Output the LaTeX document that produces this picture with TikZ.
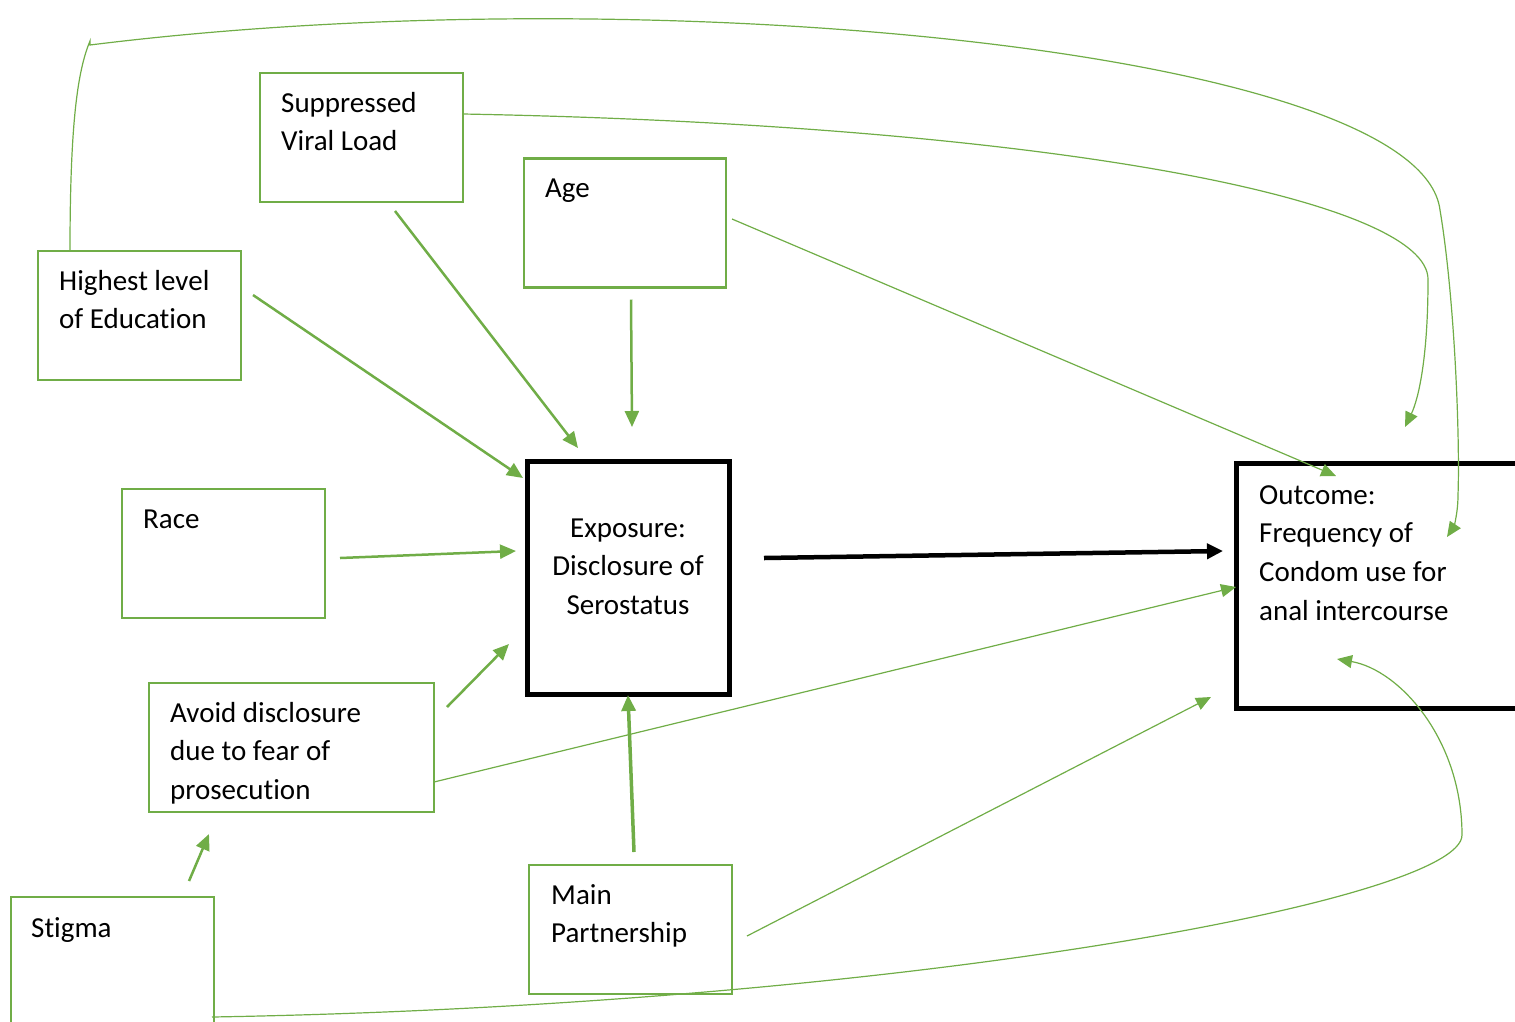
\documentclass[tikz,border=0pt]{standalone}
\usepackage{fontspec}
\setmainfont{Carlito}[Ligatures=NoCommon]
\usetikzlibrary{arrows.meta}
\definecolor{ogreen}{RGB}{112,173,71}
\begin{document}
\begin{tikzpicture}[x=1pt,y=-1pt,
  gbox/.style={draw=ogreen, line width=2.5pt, inner sep=0pt, outer sep=0pt, minimum width=#1, minimum height=129pt},
  gbox/.default=203pt,
  kbox/.style={draw=black, line width=5pt, inner sep=0pt, outer sep=0pt},
  lbl/.style={anchor=north west, inner sep=0pt, align=left, font=\fontsize{29}{38.6}\selectfont},
  clbl/.style={anchor=north, inner sep=0pt, align=center, font=\fontsize{29}{38.6}\selectfont},
  gtip/.style={-{Triangle[length=16pt,width=14pt]}},
  garr/.style={draw=ogreen, fill=none, line width=2.5pt, gtip},
  gfat/.style={draw=ogreen, line width=3.5pt, gtip},
  tarr/.style={draw=ogreen, line width=1.2pt, -{Triangle[length=15pt,width=13pt]}},
  karr/.style={draw=black, line width=4.5pt, -{Triangle[length=16pt,width=15pt]}}
]
\useasboundingbox (0,0) rectangle (1515,1021);

% boxes
\node[gbox] (sup) at (361.5,137.5) {};
\node[gbox=202pt] (age) at (625,223) {};
\node[gbox] (edu) at (139.5,315.5) {};
\node[gbox] (race) at (223.5,553.5) {};
\node[gbox=285pt] (avoid) at (291.5,747.5) {};
\node[gbox] (stig) at (112.5,961.5) {};
\node[gbox] (main) at (630.5,929.5) {};
\node[kbox, minimum width=202pt, minimum height=233pt] (expo) at (628,577.5) {};
\node[kbox, minimum width=304pt, minimum height=245pt] (outc) at (1388,585.5) {};

% labels
\node[lbl] (tsup) at ([shift={(21,12)}]sup.north west) {\strut Suppressed\\Viral Load};
\node[lbl] (tage) at ([shift={(21,12)}]age.north west) {\strut Age};
\node[lbl] (tedu) at ([shift={(21,12)}]edu.north west) {\strut Highest level\\of Education};
\node[lbl] (trace) at ([shift={(21,12)}]race.north west) {\strut Race};
\node[lbl] (tavoid) at ([shift={(21,12)}]avoid.north west) {\strut Avoid disclosure\\due to fear of\\prosecution};
\node[lbl] (tstig) at ([shift={(20,13)}]stig.north west) {\strut Stigma};
\node[lbl] (tmain) at ([shift={(22,12)}]main.north west) {\strut Main\\Partnership};
\node[clbl] (texpo) at ([shift={(0,49)}]expo.north) {\strut Exposure:\\Disclosure of\\Serostatus};
\node[lbl] (toutc) at ([shift={(23,14)}]outc.north west) {\strut Outcome:\\Frequency of\\Condom use for\\anal intercourse};

% arrows into exposure
\draw[garr] ([shift={(12,-20.5)}]edu.east) -- ([shift={(-4,17)}]expo.north west);
\draw[garr] ([shift={(33.5,9)}]sup.south) -- ([shift={(-50,-13)}]expo.north);
\draw[garr] ([shift={(6,12)}]age.south) -- ([shift={(4,-34)}]expo.north);
\draw[garr] ([shift={(15,4.5)}]race.east) -- ([shift={(-11,-26.5)}]expo.west);
\draw[garr] ([shift={(13,24)}]avoid.north east) -- ([shift={(-18,66.5)}]expo.west);
\draw[gfat] ([shift={(3.5,-13)}]main.north) -- ([shift={(0,1)}]expo.south);
\draw[garr] ([shift={(76.5,-16)}]stig.north) -- ([shift={(-82.5,22)}]avoid.south);

% main effect
\draw[karr] ([shift={(35,-19.5)}]expo.east) -- ([shift={(-13,-34.5)}]outc.west);

% thin arrows into outcome
\draw[tarr] ([shift={(6,-4)}]age.east) -- ([shift={(100,13)}]outc.north west);
\draw[tarr] ([shift={(0,34.5)}]avoid.east) -- ([shift={(0,1.5)}]outc.west);
\draw[tarr] ([shift={(15,6.5)}]main.east) -- ([shift={(-25,-11)}]outc.south west);

% curved arrows
\draw[tarr] ([shift={(0,-23.5)}]sup.east)
  .. controls (1050,125) and (1430,200) .. (1428,280)
  .. controls (1428,360) and (1418,400) .. ([shift={(169,-36)}]outc.north west);
\draw[tarr] ([shift={(32,0)}]edu.north west)
  .. controls (70,120) and (78,70) .. (90,41) -- (90,45)
  .. controls (650,-25) and (1420,50) .. (1440,210)
  .. controls (1455,300) and (1460,440) .. (1458,495)
  .. controls (1458,515) and (1453,528) .. ([shift={(211,74)}]outc.north west);
\draw[tarr] ([shift={(-2,55.5)}]stig.east)
  .. controls (900,1005) and (1462,900) .. (1462,835)
  .. controls (1462,740) and (1400,670) .. ([shift={(101,-49)}]outc.south west);
\end{tikzpicture}
\end{document}
